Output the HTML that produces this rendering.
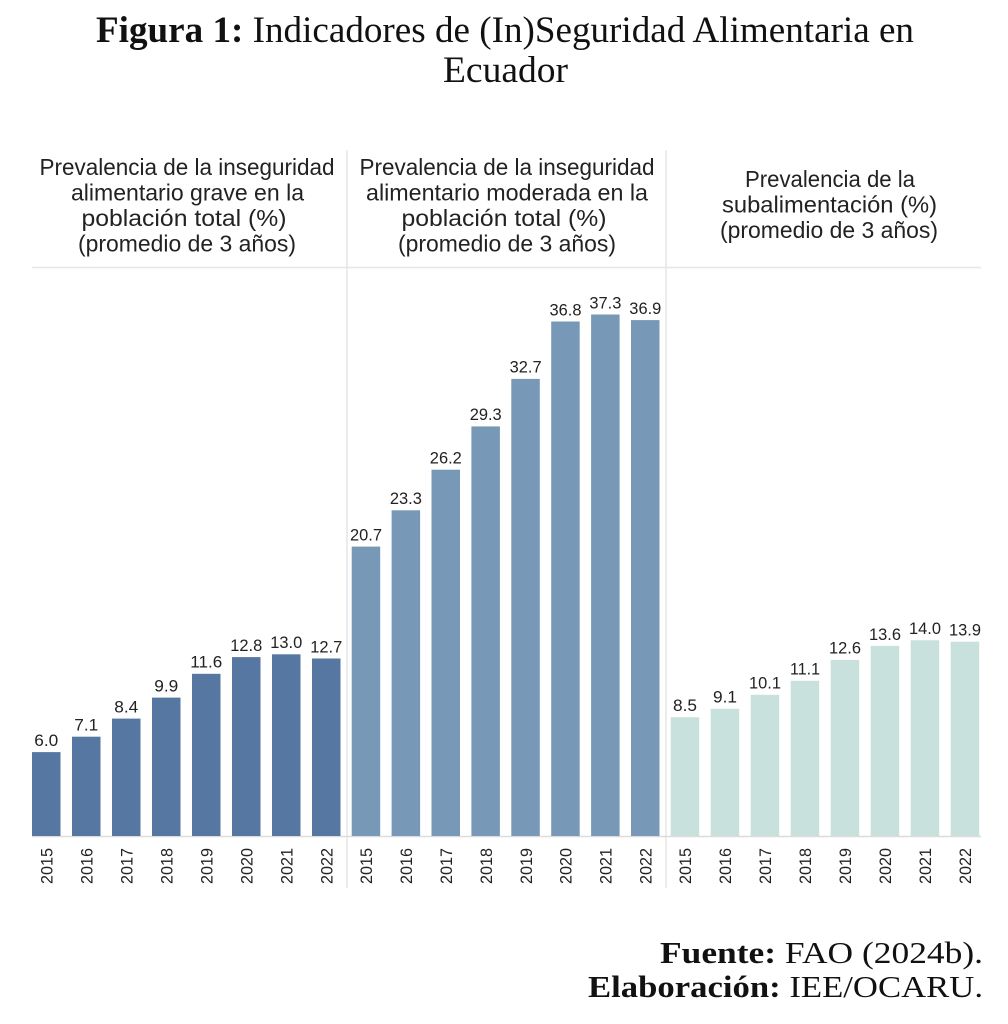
<!DOCTYPE html>
<html>
<head>
<meta charset="utf-8">
<style>
html,body{margin:0;padding:0;background:#fff;}
svg{display:block;}
</style>
</head>
<body>
<svg width="1008" height="1024" viewBox="0 0 1008 1024" xmlns="http://www.w3.org/2000/svg">
<rect width="1008" height="1024" fill="#fff"/>

<!-- Title -->
<g font-family="'Liberation Serif', serif" fill="#111">
<text x="96" y="42" font-size="37" textLength="818" lengthAdjust="spacingAndGlyphs"><tspan font-weight="bold">Figura 1:</tspan> Indicadores de (In)Seguridad Alimentaria en</text>
<text x="443" y="82" font-size="37" textLength="125" lengthAdjust="spacingAndGlyphs">Ecuador</text>
</g>

<!-- grid/divider lines -->
<g stroke="#e6e6e6" stroke-width="1.5">
<line x1="347" y1="150" x2="347" y2="888"/>
<line x1="666" y1="150" x2="666" y2="888"/>
<line x1="32" y1="267.5" x2="981" y2="267.5"/>
</g>

<!-- Panel headers -->
<g font-family="'Liberation Sans', sans-serif" font-size="23" fill="#222" text-anchor="middle">
<text x="187" y="175" textLength="295" lengthAdjust="spacingAndGlyphs">Prevalencia de la inseguridad</text>
<text x="187.5" y="200.5" textLength="233" lengthAdjust="spacingAndGlyphs">alimentario grave en la</text>
<text x="184" y="226" textLength="205" lengthAdjust="spacingAndGlyphs">población total (%)</text>
<text x="187" y="251.5" textLength="218" lengthAdjust="spacingAndGlyphs">(promedio de 3 años)</text>

<text x="507" y="175" textLength="295" lengthAdjust="spacingAndGlyphs">Prevalencia de la inseguridad</text>
<text x="507" y="200.5" textLength="282" lengthAdjust="spacingAndGlyphs">alimentario moderada en la</text>
<text x="504" y="226" textLength="205" lengthAdjust="spacingAndGlyphs">población total (%)</text>
<text x="507" y="251.5" textLength="218" lengthAdjust="spacingAndGlyphs">(promedio de 3 años)</text>

<text x="830" y="187" textLength="170" lengthAdjust="spacingAndGlyphs">Prevalencia de la</text>
<text x="829.5" y="212.5" textLength="215" lengthAdjust="spacingAndGlyphs">subalimentación (%)</text>
<text x="829" y="238" textLength="218" lengthAdjust="spacingAndGlyphs">(promedio de 3 años)</text>
</g>

<!-- axis line -->
<line x1="32" y1="836.5" x2="981" y2="836.5" stroke="#dcdcdc" stroke-width="1.5"/>

<!-- Panel 1 bars -->
<g fill="#5777a3">
<rect x="32" y="752.1" width="28.5" height="83.9"/>
<rect x="72" y="736.7" width="28.5" height="99.3"/>
<rect x="112" y="718.6" width="28.5" height="117.4"/>
<rect x="152" y="697.6" width="28.5" height="138.4"/>
<rect x="192" y="673.8" width="28.5" height="162.2"/>
<rect x="232" y="657.1" width="28.5" height="178.9"/>
<rect x="272" y="654.3" width="28.5" height="181.7"/>
<rect x="312" y="658.5" width="28.5" height="177.5"/>
</g>
<!-- Panel 2 bars -->
<g fill="#7799b7">
<rect x="351.7" y="546.6" width="28.5" height="289.4"/>
<rect x="391.6" y="510.3" width="28.5" height="325.7"/>
<rect x="431.5" y="469.7" width="28.5" height="366.3"/>
<rect x="471.4" y="426.4" width="28.5" height="409.6"/>
<rect x="511.3" y="378.9" width="28.5" height="457.1"/>
<rect x="551.2" y="321.5" width="28.5" height="514.5"/>
<rect x="591.1" y="314.5" width="28.5" height="521.5"/>
<rect x="631" y="320.1" width="28.5" height="515.9"/>
</g>
<!-- Panel 3 bars -->
<g fill="#c8e1dc">
<rect x="670.7" y="717.2" width="28.5" height="118.8"/>
<rect x="710.7" y="708.8" width="28.5" height="127.2"/>
<rect x="750.7" y="694.8" width="28.5" height="141.2"/>
<rect x="790.7" y="680.8" width="28.5" height="155.2"/>
<rect x="830.7" y="659.9" width="28.5" height="176.1"/>
<rect x="870.7" y="645.9" width="28.5" height="190.1"/>
<rect x="910.7" y="640.3" width="28.5" height="195.7"/>
<rect x="950.7" y="641.7" width="28.5" height="194.3"/>
</g>

<!-- Value labels -->
<g font-family="'Liberation Sans', sans-serif" font-size="17" fill="#222" text-anchor="middle">
<text x="46.25" y="746" textLength="24" lengthAdjust="spacingAndGlyphs">6.0</text>
<text x="86.25" y="730.5" textLength="24" lengthAdjust="spacingAndGlyphs">7.1</text>
<text x="126.25" y="712.5" textLength="24" lengthAdjust="spacingAndGlyphs">8.4</text>
<text x="166.25" y="691.5" textLength="24" lengthAdjust="spacingAndGlyphs">9.9</text>
<text x="206.25" y="667.5" textLength="32" lengthAdjust="spacingAndGlyphs">11.6</text>
<text x="246.25" y="651" textLength="32" lengthAdjust="spacingAndGlyphs">12.8</text>
<text x="286.25" y="648" textLength="32" lengthAdjust="spacingAndGlyphs">13.0</text>
<text x="326.25" y="652.5" textLength="32" lengthAdjust="spacingAndGlyphs">12.7</text>

<text x="366" y="540.5" textLength="32" lengthAdjust="spacingAndGlyphs">20.7</text>
<text x="405.9" y="504" textLength="32" lengthAdjust="spacingAndGlyphs">23.3</text>
<text x="445.8" y="463.5" textLength="32" lengthAdjust="spacingAndGlyphs">26.2</text>
<text x="485.7" y="420" textLength="32" lengthAdjust="spacingAndGlyphs">29.3</text>
<text x="525.6" y="372.5" textLength="32" lengthAdjust="spacingAndGlyphs">32.7</text>
<text x="565.5" y="315.5" textLength="32" lengthAdjust="spacingAndGlyphs">36.8</text>
<text x="605.4" y="308.5" textLength="32" lengthAdjust="spacingAndGlyphs">37.3</text>
<text x="645.3" y="314" textLength="32" lengthAdjust="spacingAndGlyphs">36.9</text>

<text x="685" y="711" textLength="24" lengthAdjust="spacingAndGlyphs">8.5</text>
<text x="725" y="702.5" textLength="24" lengthAdjust="spacingAndGlyphs">9.1</text>
<text x="765" y="688.5" textLength="32" lengthAdjust="spacingAndGlyphs">10.1</text>
<text x="805" y="674.5" textLength="30" lengthAdjust="spacingAndGlyphs">11.1</text>
<text x="845" y="653.5" textLength="32" lengthAdjust="spacingAndGlyphs">12.6</text>
<text x="885" y="640" textLength="32" lengthAdjust="spacingAndGlyphs">13.6</text>
<text x="925" y="634" textLength="32" lengthAdjust="spacingAndGlyphs">14.0</text>
<text x="965" y="635.5" textLength="32" lengthAdjust="spacingAndGlyphs">13.9</text>
</g>

<!-- Year labels -->
<g font-family="'Liberation Sans', sans-serif" font-size="17" fill="#222" text-anchor="end">
<text transform="translate(52.5,848) rotate(-90)" textLength="36" lengthAdjust="spacingAndGlyphs">2015</text>
<text transform="translate(92.5,848) rotate(-90)" textLength="36" lengthAdjust="spacingAndGlyphs">2016</text>
<text transform="translate(132.5,848) rotate(-90)" textLength="36" lengthAdjust="spacingAndGlyphs">2017</text>
<text transform="translate(172.5,848) rotate(-90)" textLength="36" lengthAdjust="spacingAndGlyphs">2018</text>
<text transform="translate(212.5,848) rotate(-90)" textLength="36" lengthAdjust="spacingAndGlyphs">2019</text>
<text transform="translate(252.5,848) rotate(-90)" textLength="36" lengthAdjust="spacingAndGlyphs">2020</text>
<text transform="translate(292.5,848) rotate(-90)" textLength="36" lengthAdjust="spacingAndGlyphs">2021</text>
<text transform="translate(332.5,848) rotate(-90)" textLength="36" lengthAdjust="spacingAndGlyphs">2022</text>

<text transform="translate(372.2,848) rotate(-90)" textLength="36" lengthAdjust="spacingAndGlyphs">2015</text>
<text transform="translate(412.1,848) rotate(-90)" textLength="36" lengthAdjust="spacingAndGlyphs">2016</text>
<text transform="translate(452,848) rotate(-90)" textLength="36" lengthAdjust="spacingAndGlyphs">2017</text>
<text transform="translate(491.9,848) rotate(-90)" textLength="36" lengthAdjust="spacingAndGlyphs">2018</text>
<text transform="translate(531.8,848) rotate(-90)" textLength="36" lengthAdjust="spacingAndGlyphs">2019</text>
<text transform="translate(571.7,848) rotate(-90)" textLength="36" lengthAdjust="spacingAndGlyphs">2020</text>
<text transform="translate(611.6,848) rotate(-90)" textLength="36" lengthAdjust="spacingAndGlyphs">2021</text>
<text transform="translate(651.5,848) rotate(-90)" textLength="36" lengthAdjust="spacingAndGlyphs">2022</text>

<text transform="translate(691.2,848) rotate(-90)" textLength="36" lengthAdjust="spacingAndGlyphs">2015</text>
<text transform="translate(731.2,848) rotate(-90)" textLength="36" lengthAdjust="spacingAndGlyphs">2016</text>
<text transform="translate(771.2,848) rotate(-90)" textLength="36" lengthAdjust="spacingAndGlyphs">2017</text>
<text transform="translate(811.2,848) rotate(-90)" textLength="36" lengthAdjust="spacingAndGlyphs">2018</text>
<text transform="translate(851.2,848) rotate(-90)" textLength="36" lengthAdjust="spacingAndGlyphs">2019</text>
<text transform="translate(891.2,848) rotate(-90)" textLength="36" lengthAdjust="spacingAndGlyphs">2020</text>
<text transform="translate(931.2,848) rotate(-90)" textLength="36" lengthAdjust="spacingAndGlyphs">2021</text>
<text transform="translate(971.2,848) rotate(-90)" textLength="36" lengthAdjust="spacingAndGlyphs">2022</text>
</g>

<!-- Footer -->
<g font-family="'Liberation Serif', serif" font-size="31" fill="#111">
<text x="660" y="963" textLength="323" lengthAdjust="spacingAndGlyphs"><tspan font-weight="bold">Fuente:</tspan> FAO (2024b).</text>
<text x="588" y="997" textLength="395" lengthAdjust="spacingAndGlyphs"><tspan font-weight="bold">Elaboración:</tspan> IEE/OCARU.</text>
</g>
</svg>
</body>
</html>
